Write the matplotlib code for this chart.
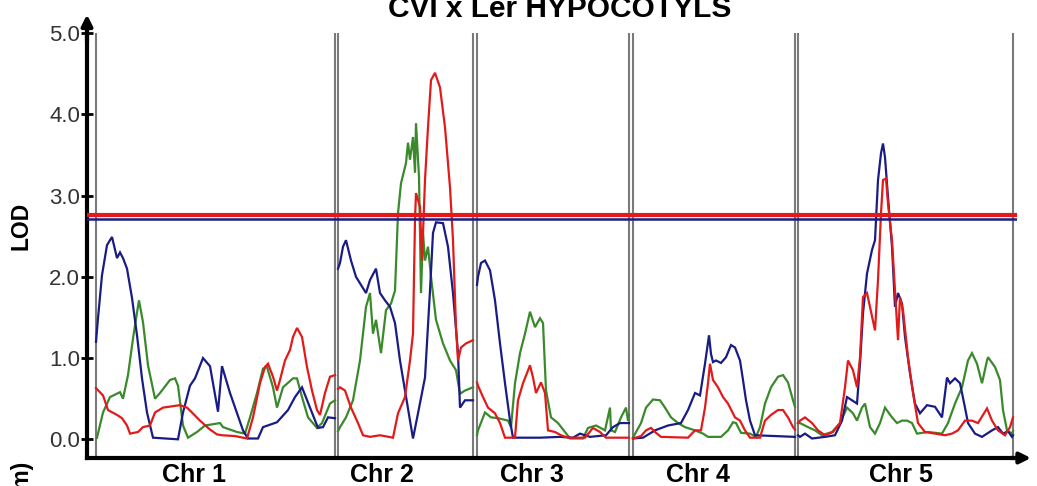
import matplotlib
matplotlib.use('Agg')
import matplotlib.pyplot as plt
import matplotlib.transforms as mtransforms

plt.rcParams['font.family'] = ['Liberation Sans', 'DejaVu Sans']

# ---------------- data ----------------
chromosomes = ['Chr 1', 'Chr 2', 'Chr 3', 'Chr 4', 'Chr 5']
chr_start = [0, 121, 190.5, 268.5, 351]          # genome offset (cM)
chr_length = [119.5, 67.5, 76, 81, 107.5]        # chromosome length (cM)
label_pos = [49, 143, 218, 301, 402.5]           # label positions (genome cM)
yticks = [0, 1, 2, 3, 4, 5]
ytick_labels = ['0.0', '1.0', '2.0', '3.0', '4.0', '5.0']
threshold_red = 2.76
threshold_blue = 2.71

# (cM within chromosome, LOD)
blue_chr1 = [(0, 1.2), (1, 1.49), (3, 2.02), (5.5, 2.39), (8, 2.49), (10.5, 2.23), (12, 2.30), (13.5, 2.23),
             (15.5, 2.1), (18, 1.74), (20.5, 1.28), (23, 0.75), (25.5, 0.33), (28.5, 0.02), (41, 0.0),
             (43.5, 0.33), (47, 0.66), (49.5, 0.75), (53.5, 1.0), (57, 0.9), (61, 0.34), (63, 0.9),
             (67, 0.57), (73.5, 0.11), (76, 0.01), (81, 0.01), (83.5, 0.15), (90.5, 0.21), (96, 0.36),
             (99.5, 0.52), (103, 0.64), (107, 0.39), (111, 0.14), (113.5, 0.15), (116, 0.27), (119.5, 0.26)]
green_chr1 = [(0.5, 0.02), (3.5, 0.33), (7, 0.52), (12, 0.58), (13.5, 0.50), (16, 0.79), (18.5, 1.24),
              (20.5, 1.56), (21.5, 1.71), (23.5, 1.44), (26, 0.91), (29.5, 0.50), (32, 0.57), (37, 0.73),
              (39.5, 0.75), (41, 0.66), (43.5, 0.17), (46, 0.02), (50.5, 0.09), (54.5, 0.17), (62, 0.2),
              (63.5, 0.15), (70.5, 0.09), (74.5, 0.07), (77, 0.27), (80.5, 0.57), (83.5, 0.87), (85.5, 0.89),
              (88.5, 0.64), (90.5, 0.39), (93.5, 0.64), (98.5, 0.75), (100.5, 0.75), (103, 0.52), (106, 0.27),
              (110.5, 0.14), (113, 0.2), (117, 0.44), (119.5, 0.48)]
red_chr1 = [(0, 0.63), (3.5, 0.54), (6, 0.36), (10.5, 0.30), (13, 0.26), (15.5, 0.17), (17, 0.07), (21, 0.09),
            (23.5, 0.15), (27, 0.17), (29.5, 0.33), (33.5, 0.39), (42, 0.42), (45.5, 0.39), (48, 0.33),
            (52, 0.23), (57, 0.12), (60.5, 0.06), (63, 0.05), (69.5, 0.04), (75.5, 0.01), (78.5, 0.27),
            (82, 0.69), (84.5, 0.89), (86, 0.93), (88.5, 0.77), (90.5, 0.6), (92, 0.73), (94.5, 0.97),
            (97, 1.1), (98.5, 1.26), (100.5, 1.37), (103, 1.26), (105.5, 0.89), (108, 0.6), (110.5, 0.36),
            (112, 0.3), (114.5, 0.57), (117, 0.77), (119.5, 0.79)]

blue_chr2 = [(0, 2.1), (1, 2.17), (2.5, 2.37), (4, 2.45), (6.5, 2.2), (9, 2.0), (14, 1.8), (16, 1.96), (19, 2.1),
             (21, 1.8), (23.5, 1.71), (26, 1.63), (28.5, 1.43), (31, 0.97), (33.5, 0.6), (36, 0.23),
             (37.5, 0.01), (40, 0.32), (43.5, 0.76), (46, 1.83), (47.5, 2.54), (49, 2.67), (52.5, 2.66),
             (55, 2.37), (57.5, 1.8), (60, 1.06), (61, 0.39), (63.5, 0.48), (67.5, 0.48)]
green_chr2 = [(0, 0.1), (1, 0.15), (4, 0.27), (7.5, 0.48), (11, 0.97), (14, 1.63), (16, 1.8), (17.5, 1.3),
              (19, 1.47), (21.5, 1.06), (24, 1.59), (26.5, 1.67), (28.5, 1.83), (30, 2.78), (31.5, 3.15),
              (34, 3.4), (35, 3.65), (36, 3.44), (37.5, 3.72), (38.5, 3.28), (39, 3.89), (40.5, 3.23),
              (41.5, 1.8), (42.5, 2.54), (43.5, 2.2), (45, 2.37), (46.5, 2.0), (49, 1.47), (52.5, 1.18),
              (56, 0.97), (59, 0.85), (61, 0.56), (63.5, 0.6), (67.5, 0.64)]
red_chr2 = [(0, 0.62), (1, 0.64), (3.5, 0.6), (6.5, 0.39), (10, 0.2), (12.5, 0.05), (16, 0.03), (21, 0.05),
            (27.5, 0.02), (30, 0.32), (33.5, 0.52), (36, 0.97), (37.5, 1.3), (38.5, 2.7), (39, 3.03),
            (41, 2.86), (42, 2.2), (43.5, 3.19), (45, 3.84), (46.5, 4.42), (48.5, 4.51), (51, 4.33),
            (53.5, 3.84), (56, 3.1), (57.5, 2.45), (59, 1.38), (60, 0.97), (61.5, 1.13), (64, 1.18),
            (67.5, 1.22)]

blue_chr3 = [(0, 1.9), (0.5, 2.0), (2, 2.17), (4, 2.2), (6.5, 2.08), (9, 1.71), (11.5, 1.18), (14, 0.69),
             (16.5, 0.23), (18, 0.02), (31.5, 0.02), (41.5, 0.03), (48, 0.02), (51.5, 0.07), (56.5, 0.03),
             (64.5, 0.05), (68, 0.15), (71.5, 0.2), (76, 0.2)]
green_chr3 = [(0, 0.05), (0.5, 0.11), (4, 0.33), (7, 0.27), (10.5, 0.26), (15.5, 0.23), (17, 0.15), (19, 0.69),
              (21.5, 1.06), (24, 1.3), (26.5, 1.57), (29, 1.38), (31.5, 1.49), (33, 1.43), (34.5, 0.6),
              (37, 0.27), (40.5, 0.2), (44, 0.09), (46.5, 0.01), (53, 0.01), (55.5, 0.14), (59.5, 0.17),
              (64, 0.11), (66.5, 0.39), (67, 0.11), (69, 0.09), (72, 0.27), (74.5, 0.39), (75.5, 0.23),
              (76, 0.3)]
red_chr3 = [(0, 0.7), (0.5, 0.66), (3, 0.52), (5.5, 0.39), (9, 0.32), (11.5, 0.2), (14, 0.02), (19, 0.02),
            (20.5, 0.48), (23, 0.69), (26.5, 0.91), (28, 0.76), (29.5, 0.57), (32, 0.7), (34, 0.57),
            (35.5, 0.11), (39, 0.09), (42, 0.05), (45.5, 0.02), (54, 0.02), (58, 0.14), (61.5, 0.09),
            (64.5, 0.02), (76, 0.02)]

blue_chr4 = [(0, 0.01), (5, 0.02), (11, 0.11), (17.5, 0.17), (24, 0.2), (27.5, 0.36), (31, 0.57), (33.5, 0.54),
             (36, 0.93), (38, 1.28), (39, 1.05), (40, 0.95), (41.5, 0.97), (44, 0.94), (46.5, 1.01),
             (49, 1.16), (51, 1.13), (53.5, 0.97), (55, 0.73), (56.5, 0.48), (58.5, 0.23), (61, 0.05),
             (81, 0.03)]
green_chr4 = [(0, 0.02), (4, 0.2), (6.5, 0.39), (10, 0.49), (13.5, 0.48), (16, 0.39), (19, 0.27), (22.5, 0.2),
              (26, 0.15), (31, 0.11), (35, 0.07), (37.5, 0.03), (44, 0.03), (47.5, 0.11), (50, 0.21),
              (51.5, 0.2), (54, 0.08), (58.5, 0.07), (61.5, 0.03), (63.5, 0.15), (66, 0.44), (69, 0.64),
              (72.5, 0.77), (75, 0.79), (77.5, 0.7), (80, 0.48), (81, 0.4)]
red_chr4 = [(0, 0.01), (4, 0.04), (6.5, 0.11), (9, 0.14), (11.5, 0.08), (14, 0.03), (27.5, 0.02), (31, 0.11),
            (34, 0.11), (36, 0.39), (37.5, 0.69), (38.5, 0.93), (40, 0.73), (42.5, 0.64), (45, 0.52),
            (47.5, 0.44), (51, 0.27), (53.5, 0.23), (56, 0.11), (58.5, 0.02), (63.5, 0.02), (66, 0.23),
            (69, 0.3), (72.5, 0.36), (75, 0.36), (77.5, 0.27), (80, 0.15), (81, 0.12)]

blue_chr5 = [(0, 0.05), (1, 0.03), (3.5, 0.07), (7, 0.01), (13.5, 0.03), (18.5, 0.05), (22, 0.23), (24.5, 0.52),
             (27, 0.48), (29.5, 0.44), (31, 0.93), (32.5, 1.55), (34.5, 2.04), (37, 2.33), (38.5, 2.45),
             (40, 3.19), (41.5, 3.52), (42.5, 3.64), (43.5, 3.47), (45, 2.98), (47, 2.37), (48.5, 1.63),
             (50, 1.8), (52, 1.67), (53.5, 1.26), (56, 0.81), (58.5, 0.44), (61, 0.32), (64.5, 0.42),
             (68.5, 0.40), (72, 0.27), (74.5, 0.76), (76, 0.69), (78.5, 0.75), (81, 0.69), (83.5, 0.39),
             (85, 0.2), (88.5, 0.07), (92, 0.03), (97, 0.11), (100, 0.15), (102.5, 0.07), (105, 0.1),
             (107, 0.03), (107.5, 0.05)]
green_chr5 = [(0, 0.2), (1, 0.2), (5, 0.15), (8.5, 0.11), (12, 0.05), (17, 0.09), (21, 0.2), (24.5, 0.39),
              (27.5, 0.32), (29.5, 0.23), (32, 0.39), (33.5, 0.44), (36, 0.15), (38.5, 0.07), (41, 0.2),
              (43.5, 0.39), (47, 0.27), (49.5, 0.2), (52, 0.23), (54.5, 0.23), (57, 0.2), (59.5, 0.07),
              (65, 0.09), (72, 0.07), (75, 0.2), (78.5, 0.44), (82, 0.64), (85, 0.97), (87, 1.06),
              (89.5, 0.93), (92, 0.69), (94.5, 0.97), (95, 1.01), (98.5, 0.89), (101, 0.73), (102.5, 0.36),
              (104.5, 0.11), (107, 0.07), (107.5, 0.1)]
red_chr5 = [(0, 0.2), (1, 0.23), (3.5, 0.27), (7, 0.2), (10, 0.11), (13.5, 0.05), (17.5, 0.09), (21, 0.2),
            (23.5, 0.64), (25, 0.97), (27.5, 0.85), (29.5, 0.64), (31, 1.01), (32.5, 1.75), (34.5, 1.8),
            (36, 1.63), (38.5, 1.34), (40, 1.96), (41.5, 2.78), (42.5, 3.19), (44, 3.21), (45, 2.9),
            (47, 2.45), (48.5, 1.83), (50, 1.22), (51, 1.75), (52.5, 1.59), (55, 1.01), (57.5, 0.57),
            (60, 0.2), (63.5, 0.09), (68.5, 0.07), (73.5, 0.05), (77, 0.07), (80, 0.11), (83.5, 0.23),
            (87, 0.23), (90, 0.2), (94.5, 0.38), (97, 0.23), (100, 0.11), (103.5, 0.05), (106, 0.15),
            (107.5, 0.27)]

blue_traces = [blue_chr1, blue_chr2, blue_chr3, blue_chr4, blue_chr5]
green_traces = [green_chr1, green_chr2, green_chr3, green_chr4, green_chr5]
red_traces = [red_chr1, red_chr2, red_chr3, red_chr4, red_chr5]

# ---------------- styling ----------------
BLUE = '#1a1c86'
GREEN = '#3a8a2c'
RED = '#e21a1a'
GRID = '#7a7a7a'

fig = plt.figure(figsize=(10.37, 4.86), dpi=100)
fig.patch.set_facecolor('white')
ax = fig.add_axes([87 / 1037, 28 / 486, 930 / 1037, 425 / 486])
ax.set_xlim(-4.5, 460.5)
ax.set_ylim(-0.23, 5.0)

# chromosome boundary lines
for s, L in zip(chr_start, chr_length):
    for xb in (s, s + L):
        ax.axvline(xb, color=GRID, lw=1.5, zorder=1)

# LOD traces, one segment per chromosome
for traces, col, z in ((green_traces, GREEN, 2), (blue_traces, BLUE, 3), (red_traces, RED, 4)):
    for s, tr in zip(chr_start, traces):
        xs = [s + p[0] for p in tr]
        ys = [p[1] for p in tr]
        ax.plot(xs, ys, color=col, lw=1.6, zorder=z, solid_joinstyle='miter')

# significance thresholds
ax.axhline(threshold_red, color=RED, lw=3.0, zorder=6)
ax.axhline(threshold_blue, color=BLUE, lw=1.8, zorder=7)

# axes styling
for side in ('top', 'right'):
    ax.spines[side].set_visible(False)
for side in ('left', 'bottom'):
    ax.spines[side].set_linewidth(3)
    ax.spines[side].set_color('black')
ax.set_xticks([])
ax.set_yticks(yticks)
ax.set_yticklabels(ytick_labels)
ax.tick_params(axis='y', direction='inout', length=8, width=2, labelsize=16,
               labelcolor='#333333', pad=1)

# arrow heads
ax.annotate('', xy=(0, 1.05), xycoords='axes fraction', xytext=(0, 0.97),
            arrowprops=dict(arrowstyle='-|>', color='black', lw=3, mutation_scale=16),
            annotation_clip=False)
ax.annotate('', xy=(1.018, 0), xycoords='axes fraction', xytext=(0.99, 0),
            arrowprops=dict(arrowstyle='-|>', color='black', lw=3, mutation_scale=16),
            annotation_clip=False)

# chromosome labels
trans = mtransforms.blended_transform_factory(ax.transData, fig.transFigure)
for pos, lab in zip(label_pos, chromosomes):
    ax.text(pos, 4 / 486, lab, transform=trans, ha='center', va='baseline',
            fontsize=18, fontweight='bold')

# titles / axis labels
fig.text(560 / 1037, 1 - 17 / 486, 'CVI x Ler HYPOCOTYLS', ha='center', va='baseline',
         fontsize=21.5, fontweight='bold')
fig.text(21 / 1037, 1 - 226 / 486, 'LOD', rotation=90, ha='center', va='center',
         fontsize=16.5, fontweight='bold')
fig.text(21 / 1037, 1 - 460 / 486, '(cm)', rotation=90, rotation_mode='anchor',
         ha='right', va='center', fontsize=16.5, fontweight='bold')

fig.savefig('out.png', dpi=100, facecolor='white')
